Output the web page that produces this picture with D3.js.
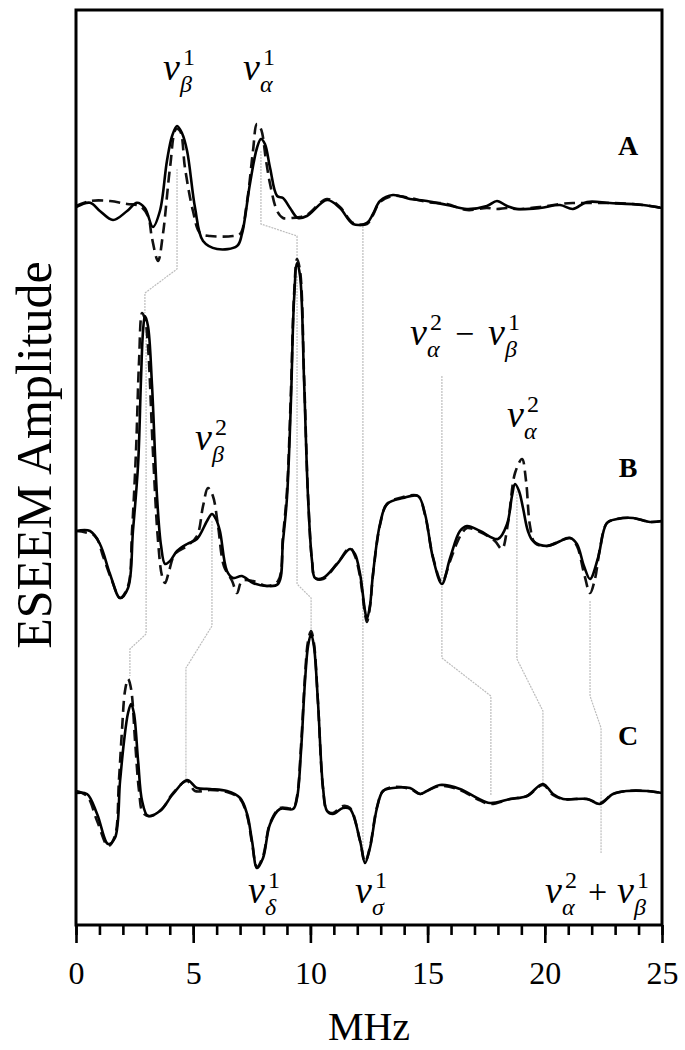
<!DOCTYPE html>
<html><head><meta charset="utf-8">
<script src="https://cdn.jsdelivr.net/npm/d3@7"></script>
<style>
body{margin:0;background:#fff}
svg{display:block}
text{font-family:"Liberation Serif","Times New Roman",serif;fill:#000}
</style>
</head><body>
<svg id="chart" width="685" height="1050"></svg>
<script>
// ---------- data ----------
const xLabel = "MHz";
const yLabel = "ESEEM Amplitude";
const majorTicks = [0, 5, 10, 15, 20, 25];
const minorTicks = [0,1,2,3,4,5,6,7,8,9,10,11,12,13,14,15,16,17,18,19,20,21,22,23,24,25];
const panelNames = ["A", "B", "C"];
const panelOffsets = [71.9, 40.2, 13.2];   // baseline of each spectrum (amplitude units)

// [MHz, amplitude] – solid = experiment, dashed = simulation
const solidA = [[0,-0.1],[0.6,0.33],[1.02,-0.5],[1.58,-1.4],[2.18,-0.5],[2.6,0.33],[2.94,-0.2],[3.28,-2.1],[3.58,-0.5],[3.88,4.5],[4.1,7.0],[4.31,8.0],[4.52,7.3],[4.74,5.5],[5.08,-0.2],[5.42,-3.5],[6.02,-4.3],[6.87,-4.0],[7.08,-2.8],[7.42,2.2],[7.72,5.8],[7.89,6.7],[8.06,6.2],[8.28,3.8],[8.58,1.0],[8.83,0.8],[9.13,-0.2],[9.47,-1.2],[9.85,-1.0],[10.71,0.6],[11.26,-0.2],[11.82,-1.8],[12.41,-1.7],[12.67,-0.8],[12.97,0.5],[13.52,1.1],[14.25,0.7],[14.97,0.5],[15.83,0.1],[16.68,-0.3],[17.53,0.0],[17.96,0.5],[18.39,0.0],[18.81,-0.3],[19.8,-0.2],[20.65,0.1],[21.2,-0.3],[21.8,0.4],[22.78,0.3],[24.19,0.1],[25,-0.2]];
const dashedA = [[0,0],[0.6,0.5],[1.45,0.5],[2.18,0.2],[2.73,0.0],[3.07,-1.0],[3.24,-3.2],[3.5,-5.5],[3.71,-2.8],[4.01,3.8],[4.27,7.7],[4.44,7.5],[4.65,3.8],[4.99,-0.5],[5.29,-2.7],[5.72,-3.0],[6.7,-3.0],[7.0,-2.8],[7.3,0.5],[7.55,5.5],[7.72,8.2],[7.89,7.7],[8.11,4.5],[8.28,2.2],[8.58,-0.5],[8.83,-1.2],[9.22,-1.2],[9.56,-1.1],[9.85,-0.9],[10.71,0.7],[11.26,-0.1],[11.82,-1.7],[12.41,-1.8],[12.67,-0.9],[12.97,0.4],[13.52,1.0],[14.25,0.8],[14.97,0.4],[15.83,0.2],[16.68,-0.4],[17.53,-0.2],[17.96,-0.3],[18.39,-0.2],[18.81,-0.3],[19.8,-0.1],[20.65,0.2],[21.2,0.3],[21.8,0.3],[22.78,0.3],[24.19,0.1],[25,-0.2]];
const solidB = [[0,-0.8],[0.6,-0.8],[1.02,-2.1],[1.45,-5.1],[1.88,-7.5],[2.22,-6.5],[2.43,-0.8],[2.65,5.9],[2.77,14.2],[2.86,19.2],[2.94,20.7],[3.07,19.7],[3.24,13.9],[3.46,2.5],[3.63,-2.3],[3.8,-4.1],[4.01,-3.8],[4.31,-2.8],[4.74,-2.1],[5.16,-1.6],[5.59,0.2],[5.8,0.9],[5.97,0.4],[6.14,-0.8],[6.44,-4.8],[6.7,-5.5],[7.08,-5.3],[7.55,-6.0],[8.15,-6.3],[8.62,-6.1],[8.83,-1.8],[9.0,2.5],[9.17,12.2],[9.3,22.2],[9.43,26.0],[9.56,24.7],[9.73,14.2],[9.9,2.5],[10.07,-3.8],[10.2,-5.5],[10.54,-5.5],[11.13,-4.1],[11.69,-2.6],[11.9,-3.1],[12.12,-5.1],[12.33,-8.8],[12.41,-9.6],[12.54,-8.3],[12.67,-5.1],[12.97,-0.1],[13.27,1.9],[13.95,2.5],[14.59,2.7],[14.89,0.9],[15.23,-3.5],[15.61,-6.1],[15.96,-3.5],[16.38,-0.8],[16.68,-0.3],[17.24,-0.8],[18.0,-1.6],[18.39,-0.1],[18.6,2.7],[18.73,3.9],[18.9,3.2],[19.07,1.5],[19.28,-0.8],[19.5,-1.8],[20.09,-2.3],[21.08,-1.5],[21.37,-2.1],[21.67,-4.3],[21.93,-5.6],[22.27,-3.5],[22.65,0.0],[23.08,0.4],[23.76,0.5],[24.49,0.1],[25,0.2]];
const dashedB = [[0,-0.8],[0.81,-1.3],[1.15,-3.3],[1.54,-5.8],[1.88,-7.5],[2.22,-6.3],[2.39,-0.8],[2.56,7.2],[2.69,16.2],[2.82,21.0],[2.94,20.4],[3.07,17.7],[3.28,7.2],[3.5,-1.8],[3.67,-5.3],[3.8,-6.0],[3.97,-4.8],[4.22,-3.1],[4.74,-2.3],[5.16,-1.3],[5.42,1.7],[5.63,3.5],[5.84,2.7],[6.06,-0.3],[6.31,-4.3],[6.66,-5.8],[6.87,-7.0],[7.08,-5.8],[7.55,-5.8],[8.15,-6.3],[8.62,-5.8],[8.83,-1.3],[9.0,3.2],[9.17,13.2],[9.3,22.7],[9.43,26.4],[9.56,25.2],[9.73,14.7],[9.9,2.7],[10.07,-3.8],[10.2,-5.5],[10.54,-5.6],[11.13,-4.1],[11.69,-2.5],[11.9,-3.3],[12.12,-5.4],[12.33,-9.1],[12.41,-9.9],[12.54,-8.4],[12.67,-5.2],[12.97,-0.2],[13.27,1.9],[13.95,2.6],[14.59,2.7],[14.89,0.8],[15.23,-3.4],[15.61,-5.9],[15.96,-3.8],[16.25,-2.0],[16.47,-1.0],[16.68,-0.5],[17.24,-0.9],[17.87,-1.8],[18.17,-2.6],[18.43,0.0],[18.73,5.0],[19.03,6.4],[19.2,4.2],[19.37,-0.3],[19.58,-2.0],[20.09,-2.3],[21.08,-1.5],[21.37,-2.3],[21.67,-5.0],[21.93,-7.0],[22.14,-5.6],[22.35,-2.6],[22.65,0.0],[23.08,0.4],[23.76,0.5],[24.49,0.1],[25,0.2]];
const solidC = [[0,0],[0.47,-0.1],[0.9,-2.1],[1.37,-5.1],[1.66,-4.5],[1.88,1.2],[2.05,5.2],[2.22,8.0],[2.35,8.9],[2.47,8.0],[2.65,3.2],[2.82,-0.8],[3.07,-2.3],[3.58,-1.8],[4.14,-0.1],[4.74,1.3],[5.16,0.5],[5.72,0.4],[6.44,0.2],[7.0,-0.5],[7.3,-2.1],[7.51,-4.8],[7.72,-7.5],[7.98,-6.5],[8.28,-3.1],[8.7,-1.6],[9.26,-1.6],[9.43,-0.5],[9.6,4.2],[9.77,11.2],[9.9,14.7],[10.03,15.9],[10.15,14.7],[10.32,9.2],[10.54,0.5],[10.71,-1.8],[10.96,-2.1],[11.39,-1.5],[11.69,-1.6],[12.12,-4.8],[12.33,-7.0],[12.54,-5.5],[12.84,-1.5],[13.1,0.2],[13.52,0.5],[14.25,0.5],[14.68,-0.1],[14.97,0.2],[15.53,0.8],[16.38,0.4],[17.11,-0.5],[17.66,-1.0],[18.52,-0.6],[19.24,-0.3],[19.92,0.9],[20.35,-0.1],[20.78,-0.6],[21.8,-0.6],[22.35,-1.1],[22.91,-0.1],[23.51,0.2],[24.36,0.2],[25,0.0]];
const dashedC = [[0,0.2],[0.47,-0.3],[0.9,-2.8],[1.37,-5.3],[1.66,-4.3],[1.83,1.2],[1.96,6.2],[2.09,10.2],[2.22,11.4],[2.35,10.4],[2.52,5.2],[2.69,0.2],[2.86,-2.0],[3.16,-2.3],[3.67,-1.6],[4.14,0.0],[4.74,1.2],[5.08,0.2],[5.72,0.3],[6.44,0.1],[7.0,-0.6],[7.3,-2.3],[7.51,-5.0],[7.72,-7.4],[7.98,-6.3],[8.28,-3.0],[8.7,-1.5],[9.26,-1.5],[9.43,-0.3],[9.6,4.7],[9.77,11.7],[9.9,15.2],[10.03,16.2],[10.15,15.0],[10.32,9.2],[10.54,0.4],[10.71,-1.8],[10.96,-2.0],[11.39,-1.3],[11.69,-1.5],[12.12,-4.8],[12.33,-6.9],[12.54,-5.4],[12.84,-1.4],[13.1,0.2],[13.52,0.6],[14.25,0.4],[14.68,-0.1],[14.97,0.2],[15.53,0.7],[16.38,0.3],[17.11,-0.6],[17.66,-1.1],[18.52,-0.6],[19.24,-0.3],[19.92,0.8],[20.35,-0.2],[20.78,-0.6],[21.8,-0.6],[22.35,-1.0],[22.91,-0.1],[23.51,0.2],[24.36,0.2],[25,0.0]];

// grey correlation lines: [MHz, absolute amplitude]
const connectors = [
  [[4.31,75.6],[4.31,65.6],[2.94,63.2],[2.94,61.2]],
  [[2.99,59.4],[2.99,29.1],[2.30,27.6],[2.30,24.9]],
  [[7.89,77.4],[7.89,70.1],[9.43,68.9],[9.43,66.4]],
  [[9.43,64.9],[9.43,34.1],[10.03,32.7],[10.03,28.9]],
  [[12.24,69.9],[12.24,6.9]],
  [[15.61,54.9],[15.61,26.7],[17.70,22.9],[17.70,12.9]],
  [[18.81,43.4],[18.81,26.6],[19.92,21.4],[19.92,14.1]],
  [[21.93,32.4],[21.93,22.9],[22.40,19.7],[22.40,7.2]],
  [[5.80,40.4],[5.80,29.9],[4.69,25.7],[4.69,14.4]]
];

// ---------- drawing ----------
const svg = d3.select("#chart");
const L = 76, R = 662, T = 10, B = 925;
const x = d3.scaleLinear().domain([0, 25]).range([L, R]);
const y = d3.scaleLinear().domain([0, 91.5]).range([B, T]);

const gLines = svg.append("g");
gLines.selectAll("path.conn").data(connectors).join("path")
  .attr("class","conn")
  .attr("d", d3.line().x(d => x(d[0])).y(d => y(d[1])))
  .attr("fill","none").attr("stroke","#bdbdbd").attr("stroke-width",1.2)
  .attr("stroke-dasharray","2,1");

const spectra = [
  {off: panelOffsets[0], solid: solidA, dashed: dashedA},
  {off: panelOffsets[1], solid: solidB, dashed: dashedB},
  {off: panelOffsets[2], solid: solidC, dashed: dashedC}
];
spectra.forEach(s => {
  const line = d3.line().x(d => x(d[0])).y(d => y(d[1] + s.off)).curve(d3.curveCatmullRom.alpha(0.5));
  gLines.append("path").attr("d", line(s.dashed)).attr("fill","none")
    .attr("stroke","#111").attr("stroke-width",2.6).attr("stroke-dasharray","11,6");
  gLines.append("path").attr("d", line(s.solid)).attr("fill","none")
    .attr("stroke","#000").attr("stroke-width",2.6).attr("stroke-linejoin","round");
});

// axes
const axMinor = d3.axisBottom(x).tickValues(minorTicks).tickSize(10).tickFormat("");
const axMajor = d3.axisBottom(x).tickValues(majorTicks).tickSize(18).tickPadding(18).tickFormat(d3.format("d"));
const gMinor = svg.append("g").attr("transform",`translate(0,${B})`).call(axMinor);
const gMajor = svg.append("g").attr("transform",`translate(0,${B})`).call(axMajor);
[gMinor, gMajor].forEach(g => {
  g.select(".domain").remove();
  g.selectAll("line").attr("stroke","#000").attr("stroke-width",2.6);
});
gMajor.selectAll("text").attr("font-size",32).attr("font-family","Liberation Serif").attr("fill","#000");

// frame
svg.append("rect").attr("x",L).attr("y",T).attr("width",R-L).attr("height",B-T)
  .attr("fill","none").attr("stroke","#000").attr("stroke-width",3);

// axis titles
svg.append("text").attr("x",(L+R)/2).attr("y",1040).attr("text-anchor","middle")
  .attr("font-size",40).text(xLabel);
svg.append("text").attr("transform","translate(51,455) rotate(-90)").attr("text-anchor","middle")
  .attr("font-size",50).text(yLabel);

// panel letters
const letterY = [155, 477, 745];
panelNames.forEach((n,i) => svg.append("text").attr("x",628).attr("y",letterY[i])
  .attr("text-anchor","middle").attr("font-size",28).attr("font-weight","bold").text(n));

// nu labels
const gl = svg.append("g");
function nu(x0, b, sup, sub) {
  gl.append("text").attr("x",x0).attr("y",b).attr("font-size",38).attr("font-style","italic").text("ν");
  gl.append("text").attr("x",x0+20).attr("y",b-15).attr("font-size",24).text(sup);
  gl.append("text").attr("x",x0+17).attr("y",b+12).attr("font-size",24).attr("font-style","italic").text(sub);
}
function op(x0, b, s) {
  gl.append("text").attr("x",x0).attr("y",b).attr("font-size",34).text(s);
}
nu(163, 80, "1", "β");
nu(243, 80, "1", "α");
nu(195, 450, "2", "β");
nu(410, 345, "2", "α"); op(455, 345, "−"); nu(488, 345, "1", "β");
nu(507, 427, "2", "α");
nu(248, 903, "1", "δ");
nu(355, 903, "1", "σ");
nu(545, 903, "2", "α"); op(588, 903, "+"); nu(617, 903, "1", "β");
</script>
</body></html>
